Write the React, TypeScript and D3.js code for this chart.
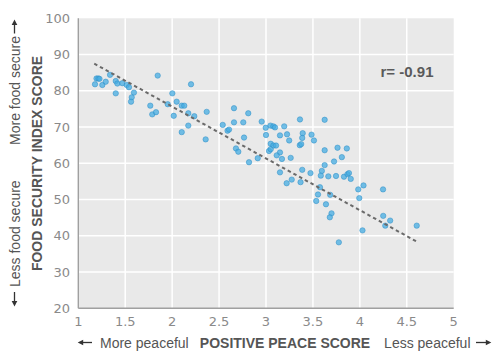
import React from "react";
import * as d3 from "d3";

const peaceScores = [
  1.178, 1.194, 1.213, 1.226, 1.256, 1.292, 1.338, 1.399, 1.416, 1.399,
  1.469, 1.516, 1.54, 1.593, 1.569, 1.562, 1.846, 1.767, 1.788, 1.828,
  2.002, 1.953, 2.048, 2.017, 2.102, 2.129, 2.201, 2.172, 2.236, 2.172,
  2.102, 2.368, 2.357, 2.539, 2.59, 2.606, 2.659, 2.659, 2.758, 2.811,
  2.766, 2.68, 2.705, 2.819, 2.912, 2.954, 2.997, 3.048, 3.078, 3.096,
  3.194, 3.0, 3.149, 3.224, 3.247, 3.05, 3.078, 3.107, 3.032, 3.05,
  3.149, 3.114, 3.17, 3.263, 3.362, 3.391, 3.386, 3.36, 3.375, 3.485,
  3.511, 3.625, 3.625, 3.762, 3.861, 3.808, 3.725, 3.625, 3.595, 3.386,
  3.474, 3.584, 3.664, 3.746, 3.831, 3.868, 3.884, 3.903, 3.149, 3.274,
  3.22, 3.368, 3.575, 3.554, 3.684, 3.535, 3.639, 3.698, 3.68, 3.983,
  4.039, 3.994, 4.247, 4.249, 4.323, 4.271, 4.028, 3.776, 4.606,
];
const foodScores = [
  81.8, 83.4, 83.4, 83.3, 81.6, 82.5, 84.4, 82.7, 82.0, 79.3,
  82.1, 81.6, 81.0, 79.5, 78.2, 77.0, 84.2, 75.9, 73.5, 74.1,
  79.3, 76.3, 77.0, 73.1, 75.9, 75.9, 81.8, 73.8, 73.0, 70.4,
  68.6, 74.2, 66.6, 70.6, 69.0, 69.3, 75.2, 71.3, 71.3, 73.8,
  67.1, 64.1, 63.2, 60.3, 61.4, 71.5, 69.8, 70.4, 70.2, 69.9,
  70.2, 67.8, 67.7, 68.0, 66.3, 65.4, 64.9, 64.9, 63.4, 63.9,
  63.0, 62.2, 61.2, 61.5, 72.1, 68.3, 67.0, 65.0, 65.3, 67.9,
  66.3, 72.0, 63.6, 64.3, 64.1, 61.7, 60.5, 59.5, 57.9, 58.2,
  57.3, 56.6, 56.4, 56.5, 56.3, 57.0, 57.3, 55.7, 57.5, 55.5,
  54.5, 54.8, 53.4, 51.4, 51.3, 49.6, 48.7, 46.2, 45.1, 52.8,
  53.9, 50.4, 52.8, 45.5, 44.2, 42.8, 41.5, 38.2, 42.8,
];
const trendX = [1.17, 4.62];
const trendY = [87.5, 38.2];
const xTicks = [1, 1.5, 2, 2.5, 3, 3.5, 4, 4.5, 5];
const yTicks = [20, 30, 40, 50, 60, 70, 80, 90, 100];
const rLabel = "r= -0.91";

const W = 504;
const H = 363;
const M = { left: 78.3, right: 453.7, top: 18.3, bottom: 308.3 };

function Arrow({ x1, y1, x2, y2 }: { x1: number; y1: number; x2: number; y2: number }) {
  // arrow from (x1,y1) tail to (x2,y2) tip
  const dx = x2 - x1;
  const dy = y2 - y1;
  const len = Math.hypot(dx, dy);
  const ux = dx / len;
  const uy = dy / len;
  const hl = 5.5;
  const hw = 2.8;
  const bx = x2 - ux * hl;
  const by = y2 - uy * hl;
  const pts = [
    [x2, y2],
    [bx - uy * hw, by + ux * hw],
    [bx + uy * hw, by - ux * hw],
  ]
    .map((p) => p.join(","))
    .join(" ");
  return (
    <g>
      <line x1={x1} y1={y1} x2={bx + ux} y2={by + uy} stroke="#333" strokeWidth={1.3} />
      <polygon points={pts} fill="#333" />
    </g>
  );
}

export default function App() {
  const x = d3.scaleLinear().domain([1, 5]).range([M.left, M.right]);
  const y = d3.scaleLinear().domain([20, 100]).range([M.bottom, M.top]);
  const trend = d3
    .line<number>()
    .x((_, i) => x(trendX[i]))
    .y((_, i) => y(trendY[i]))(trendX);
  const tickFont = "DejaVu Sans, sans-serif";
  const font = "Liberation Sans, Arial, sans-serif";
  return (
    <svg
      width={W}
      height={H}
      style={{ position: "absolute", left: 0, top: 0, background: "#fff" }}
    >
      <rect
        x={M.left}
        y={M.top}
        width={M.right - M.left}
        height={M.bottom - M.top}
        fill="#e9e9e9"
      />
      {xTicks.slice(1, -1).map((t) => (
        <line
          key={"gx" + t}
          x1={x(t)}
          x2={x(t)}
          y1={M.top}
          y2={M.bottom}
          stroke="#fff"
          strokeWidth={1.5}
        />
      ))}
      {yTicks.slice(1, -1).map((t) => (
        <line
          key={"gy" + t}
          x1={M.left}
          x2={M.right}
          y1={y(t)}
          y2={y(t)}
          stroke="#fff"
          strokeWidth={1.5}
        />
      ))}
      <line x1={M.left} x2={M.left} y1={M.top} y2={M.bottom} stroke="#a0a0a0" strokeWidth={1.4} />
      <line x1={M.left} x2={M.right} y1={M.bottom} y2={M.bottom} stroke="#a0a0a0" strokeWidth={1.4} />
      {xTicks.map((t) => (
        <text
          key={"tx" + t}
          x={x(t)}
          y={325.7}
          textAnchor="middle"
          fontFamily={tickFont}
          fontSize={13}
          fill="#8a8a8a"
        >
          {d3.format("~g")(t)}
        </text>
      ))}
      {yTicks.map((t) => (
        <text
          key={"ty" + t}
          x={70}
          y={y(t)}
          dy="0.36em"
          textAnchor="end"
          fontFamily={tickFont}
          fontSize={13}
          fill="#8a8a8a"
        >
          {t}
        </text>
      ))}
      {peaceScores.map((p, i) => (
        <circle
          key={"c" + i}
          cx={x(p)}
          cy={y(foodScores[i])}
          r={2.7}
          fill="#45ace2"
          fillOpacity={0.75}
          stroke="#2a8cc6"
          strokeOpacity={0.7}
          strokeWidth={0.7}
        />
      ))}
      <path
        d={trend || ""}
        fill="none"
        stroke="#6a6a6a"
        strokeWidth={2}
        strokeDasharray="3.5,3"
      />
      <text
        x={407}
        y={77}
        textAnchor="middle"
        fontFamily={font}
        fontWeight="bold"
        fontSize={15}
        fill="#5a5a5a"
      >
        {rLabel}
      </text>
      <text
        x={285}
        y={348}
        textAnchor="middle"
        fontFamily={font}
        fontWeight="bold"
        fontSize={14}
        fill="#555"
      >
        POSITIVE PEACE SCORE
      </text>
      <Arrow x1={92} y1={342.5} x2={77.7} y2={342.5} />
      <text x={100} y={347.5} fontFamily={font} fontSize={14} fill="#555">
        More peaceful
      </text>
      <text x={470.5} y={347.5} textAnchor="end" fontFamily={font} fontSize={14} fill="#555">
        Less peaceful
      </text>
      <Arrow x1={476} y1={342.5} x2={491.3} y2={342.5} />
      <text
        transform="translate(41.5,163.5) rotate(-90)"
        textAnchor="middle"
        fontFamily={font}
        fontWeight="bold"
        fontSize={14}
        fill="#555"
      >
        FOOD SECURITY INDEX SCORE
      </text>
      <text
        transform="translate(20,36) rotate(-90)"
        textAnchor="end"
        fontFamily={font}
        fontSize={14}
        fill="#555"
      >
        More food secure
      </text>
      <Arrow x1={14.5} y1={33.5} x2={14.5} y2={19.5} />
      <text
        transform="translate(20,287) rotate(-90)"
        textAnchor="start"
        fontFamily={font}
        fontSize={14}
        fill="#555"
      >
        Less food secure
      </text>
      <Arrow x1={14.5} y1={292} x2={14.5} y2={306.5} />
    </svg>
  );
}
